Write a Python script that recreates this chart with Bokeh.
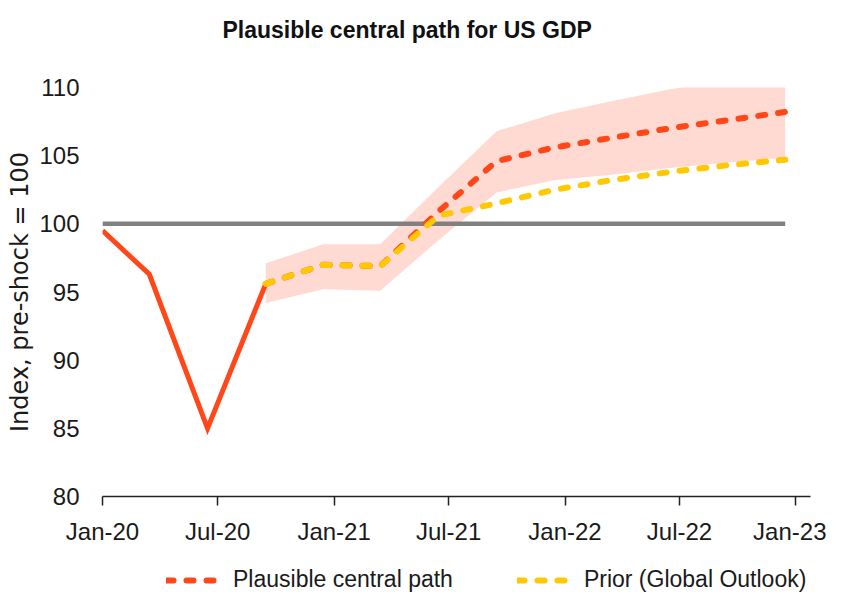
from datetime import datetime
import pandas as pd
from bokeh.plotting import figure
from bokeh.layouts import column
from bokeh.models import (Range1d, FixedTicker, DatetimeTickFormatter, Legend,
                          LegendItem, ColumnDataSource, Title)
from bokeh.embed import file_html
from bokeh.resources import INLINE

# ---- data ----
actual_dates = ["2020-01-01", "2020-03-15", "2020-06-15", "2020-09-15"]
actual_gdp = [99.5, 96.3, 85.0, 95.6]

fc_dates = ["2020-09-15", "2020-12-15", "2021-03-15", "2021-06-15", "2021-09-15",
            "2021-12-15", "2022-03-15", "2022-06-15", "2022-09-15", "2022-12-15"]
central_path = [95.6, 97.0, 96.9, 100.9, 104.6, 105.6, 106.3, 107.0, 107.6, 108.2]
prior_path = [95.6, 97.0, 96.9, 100.6, 101.5, 102.5, 103.2, 103.8, 104.3, 104.7]
band_upper = [97.1, 98.5, 98.5, 102.7, 106.8, 108.1, 109.0, 109.85, 110.6, 111.3]
band_lower = [94.2, 95.2, 95.1, 98.8, 102.3, 103.2, 103.6, 104.1, 104.5, 104.85]

baseline_dates = ["2020-01-01", "2022-12-15"]
baseline = [100, 100]

x_tick_dates = ["2020-01-01", "2020-07-01", "2021-01-01", "2021-07-01",
                "2022-01-01", "2022-07-01", "2023-01-01"]
y_ticks = [80, 85, 90, 95, 100, 105, 110]

title_text = "Plausible central path for US GDP"
y_label = "Index, pre-shock = 100"
legend_labels = ["Plausible central path", "Prior (Global Outlook)"]

RED = "#FF4719"
YELLOW = "#FFC800"
BAND = "#FFDAD2"
GRAY = "#808080"
FONT = "Liberation Sans"
DASH = "7 13"

to_dt = lambda xs: pd.to_datetime(pd.Series(xs))

act = ColumnDataSource(dict(x=to_dt(actual_dates), y=actual_gdp))
fc = ColumnDataSource(dict(x=to_dt(fc_dates), c=central_path, p=prior_path,
                           up=band_upper, lo=band_lower))
base = ColumnDataSource(dict(x=to_dt(baseline_dates), y=baseline))

p = figure(width=826, height=560, x_axis_type="datetime",
           x_range=Range1d(datetime(2020, 1, 1), datetime(2023, 1, 24)),
           y_range=Range1d(80, 110),
           output_backend="svg", toolbar_location=None,
           min_border_left=102, min_border_right=16, min_border_top=87,
           min_border_bottom=64)

p.title.text = ""
p.outline_line_color = None
p.xgrid.grid_line_color = None
p.ygrid.grid_line_color = None

p.varea(x="x", y1="lo", y2="up", source=fc, fill_color=BAND, fill_alpha=1.0)
p.line(x="x", y="y", source=base, line_color=GRAY, line_width=4.5)
p.line(x="x", y="y", source=act, line_color=RED, line_width=5, line_join="miter")
p.line(x="x", y="c", source=fc, line_color=RED, line_width=6,
       line_dash=DASH, line_cap="round")
p.line(x="x", y="p", source=fc, line_color=YELLOW, line_width=6,
       line_dash=DASH, line_cap="round")

# axes
p.xaxis.ticker = FixedTicker(ticks=[pd.Timestamp(d).value / 1e6 for d in x_tick_dates])
p.xaxis.formatter = DatetimeTickFormatter(days="%b-%y", months="%b-%y", years="%b-%y")
p.xaxis.major_tick_out = 9
p.xaxis.major_tick_in = 0
p.xaxis.minor_tick_line_color = None
p.xaxis.axis_line_color = "#222222"
p.xaxis.axis_line_width = 1.5
p.xaxis.major_tick_line_color = "#222222"
p.xaxis.major_tick_line_width = 1.5
p.xaxis.major_label_standoff = 12
p.xaxis.major_label_text_font = FONT
p.xaxis.major_label_text_font_size = "24px"
p.xaxis.major_label_text_color = "#1a1a1a"

p.yaxis.ticker = FixedTicker(ticks=y_ticks)
p.yaxis.axis_line_color = None
p.yaxis.major_tick_line_color = None
p.yaxis.minor_tick_line_color = None
p.yaxis.major_label_standoff = 17
p.yaxis.major_label_text_font = FONT
p.yaxis.major_label_text_font_size = "24px"
p.yaxis.major_label_text_color = "#1a1a1a"
p.yaxis.axis_label = y_label
p.yaxis.axis_label_text_font = "DejaVu Sans"
p.yaxis.axis_label_text_font_size = "24px"
p.yaxis.axis_label_text_font_style = "normal"
p.yaxis.axis_label_text_color = "#1a1a1a"
p.yaxis.axis_label_standoff = 2

# titles: spacer closest to the frame, then the real title
p.add_layout(Title(text=" ", text_font_size="10px", standoff=27), "above")
p.add_layout(Title(text=title_text, text_font=FONT, text_font_size="23px",
                   text_font_style="bold", text_color="#111111",
                   align="left", offset=120, standoff=10), "above")

# ---- legend strip below the chart (keys reuse the series, out of view) ----
lg = figure(width=826, height=33, x_range=Range1d(0, 1), y_range=Range1d(0, 1),
            output_backend="svg", toolbar_location=None,
            x_axis_location=None, y_axis_location=None,
            min_border_left=102, min_border_right=16, min_border_top=0,
            min_border_bottom=0)
lg.title.text = ""
lg.outline_line_color = None
lg.xgrid.grid_line_color = None
lg.ygrid.grid_line_color = None
k_c = lg.line(x="x", y="c", source=fc, line_color=RED, line_width=6,
              line_dash=DASH, line_cap="round")
k_p = lg.line(x="x", y="p", source=fc, line_color=YELLOW, line_width=6,
              line_dash=DASH, line_cap="round")

legend = Legend(items=[LegendItem(label=legend_labels[0], renderers=[k_c]),
                       LegendItem(label=legend_labels[1], renderers=[k_p])],
                orientation="horizontal", location=(64, 0),
                glyph_width=55, glyph_height=22, label_standoff=12, spacing=64,
                padding=0, margin=0, border_line_color=None,
                background_fill_alpha=0,
                label_text_font=FONT, label_text_font_size="23px",
                label_text_color="#1a1a1a")
lg.add_layout(legend, "center")

layout = column(p, lg, spacing=0)
open("out.html", "w").write(file_html(layout, INLINE))
